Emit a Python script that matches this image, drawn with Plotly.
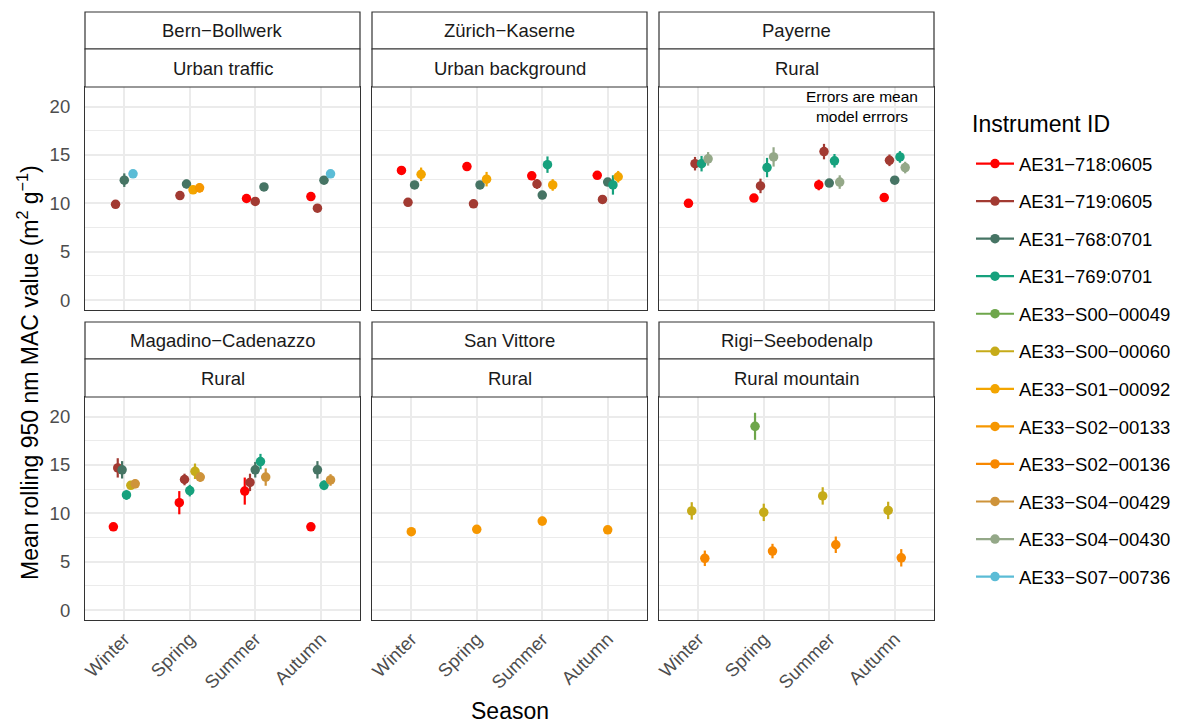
import plotly.graph_objects as go

W, H = 1185, 723
FONT = "Liberation Sans, Arial, Helvetica, sans-serif"

# ---------------- data ----------------
seasons = ["Winter", "Spring", "Summer", "Autumn"]

instruments = [
    "AE31−718:0605", "AE31−719:0605", "AE31−768:0701", "AE31−769:0701",
    "AE33−S00−00049", "AE33−S00−00060", "AE33−S01−00092", "AE33−S02−00133",
    "AE33−S02−00136", "AE33−S04−00429", "AE33−S04−00430", "AE33−S07−00736",
]
colors = [
    "#FF0000", "#A23A32", "#467464", "#16A17D", "#6EA64B", "#C6AB19",
    "#F3A500", "#F69700", "#F88800", "#CE933A", "#94A888", "#5BBCD6",
]

sites = ["Bern−Bollwerk", "Zürich−Kaserne", "Payerne",
         "Magadino−Cadenazzo", "San Vittore", "Rigi−Seebodenalp"]
site_types = ["Urban traffic", "Urban background", "Rural",
              "Rural", "Rural", "Rural mountain"]

# mean MAC values per instrument, per season (Winter, Spring, Summer, Autumn)
bern_mac = {
    "AE31−718:0605": [None, None, 10.5, 10.7],
    "AE31−719:0605": [9.9, 10.8, 10.2, 9.5],
    "AE31−768:0701": [12.4, 12.0, 11.7, 12.4],
    "AE33−S01−00092": [None, 11.4, None, None],
    "AE33−S02−00133": [None, 11.6, None, None],
    "AE33−S07−00736": [13.05, None, None, 13.05],
}
bern_err = {
    "AE31−718:0605": [None, None, 0.25, 0.25],
    "AE31−719:0605": [0.25, 0.25, 0.25, 0.25],
    "AE31−768:0701": [0.7, 0.45, 0.25, 0.3],
    "AE33−S01−00092": [None, 0.35, None, None],
    "AE33−S02−00133": [None, 0.5, None, None],
    "AE33−S07−00736": [0.25, None, None, 0.25],
}

zurich_mac = {
    "AE31−718:0605": [13.4, 13.8, 12.85, 12.9],
    "AE31−719:0605": [10.1, 9.95, 12.0, 10.4],
    "AE31−768:0701": [11.9, 11.9, 10.85, 12.2],
    "AE31−769:0701": [None, None, 14.0, 11.9],
    "AE33−S01−00092": [13.0, 12.5, 11.9, 12.75],
}
zurich_err = {
    "AE31−718:0605": [0.25, 0.25, 0.25, 0.25],
    "AE31−719:0605": [0.25, 0.25, 0.5, 0.25],
    "AE31−768:0701": [0.3, 0.3, 0.3, 0.4],
    "AE31−769:0701": [None, None, 0.85, 1.0],
    "AE33−S01−00092": [0.7, 0.75, 0.6, 0.6],
}

payerne_mac = {
    "AE31−718:0605": [10.0, 10.55, 11.9, 10.6],
    "AE31−719:0605": [14.1, 11.8, 15.35, 14.45],
    "AE31−768:0701": [None, None, 12.1, 12.4],
    "AE31−769:0701": [14.1, 13.7, 14.4, 14.8],
    "AE33−S04−00430": [14.6, 14.8, 12.2, 13.7],
}
payerne_err = {
    "AE31−718:0605": [0.25, 0.25, 0.55, 0.3],
    "AE31−719:0605": [0.7, 0.75, 0.8, 0.6],
    "AE31−768:0701": [None, None, 0.3, 0.3],
    "AE31−769:0701": [0.8, 1.0, 0.7, 0.6],
    "AE33−S04−00430": [0.7, 1.0, 0.7, 0.6],
}

magadino_mac = {
    "AE31−718:0605": [8.6, 11.1, 12.3, 8.6],
    "AE31−719:0605": [14.7, 13.5, 13.2, None],
    "AE31−768:0701": [14.5, None, 14.5, 14.5],
    "AE31−769:0701": [11.9, 12.35, 15.35, 12.9],
    "AE33−S00−00060": [12.9, 14.35, None, None],
    "AE33−S04−00429": [13.05, 13.75, 13.75, 13.45],
}
magadino_err = {
    "AE31−718:0605": [0.35, 1.2, 1.4, 0.4],
    "AE31−719:0605": [1.0, 0.6, 0.9, None],
    "AE31−768:0701": [0.9, None, 0.8, 0.9],
    "AE31−769:0701": [0.5, 0.6, 0.8, 0.5],
    "AE33−S00−00060": [0.4, 0.8, None, None],
    "AE33−S04−00429": [0.45, 0.5, 0.9, 0.6],
}

sanvittore_mac = {
    "AE33−S02−00133": [8.1, 8.35, 9.2, 8.3],
}
sanvittore_err = {
    "AE33−S02−00133": [0.25, 0.25, 0.45, 0.25],
}

rigi_mac = {
    "AE33−S00−00049": [None, 19.0, None, None],
    "AE33−S00−00060": [10.25, 10.1, 11.8, 10.3],
    "AE33−S02−00136": [5.35, 6.1, 6.75, 5.4],
}
rigi_err = {
    "AE33−S00−00049": [None, 1.4, None, None],
    "AE33−S00−00060": [0.9, 0.9, 0.9, 0.9],
    "AE33−S02−00136": [0.8, 0.75, 0.85, 0.9],
}

site_mac = [bern_mac, zurich_mac, payerne_mac, magadino_mac, sanvittore_mac, rigi_mac]
site_err = [bern_err, zurich_err, payerne_err, magadino_err, sanvittore_err, rigi_err]

y_ticks = [0, 5, 10, 15, 20]
note_text = "Errors are mean<br>model errrors"
legend_title = "Instrument ID"

# ---------------- layout geometry (pixels) ----------------
col_px = [(85, 360), (372, 647), (659, 934)]
row_px = [(87, 310), (397, 620)]          # panel area top/bottom
strip_px = [(12, 49, 87), (322, 359, 397)]  # strip top, divider, bottom
DODGE = 0.4


def px_x(v):
    return v / W


def px_y(v):
    return 1 - v / H


color_of = dict(zip(instruments, colors))

fig = go.Figure()
layout = {}
shapes = []
annotations = []

for p in range(6):
    r, c = divmod(p, 3)
    ax = "" if p == 0 else str(p + 1)
    mac, err = site_mac[p], site_err[p]

    # dodge positions per season, instruments in legend order
    offsets = {}
    for s in range(4):
        present = [i for i in instruments if i in mac and mac[i][s] is not None]
        n = len(present)
        for k, inst in enumerate(present):
            offsets[(inst, s)] = -DODGE / 2 + (k + 0.5) * DODGE / n

    for inst in instruments:
        if inst not in mac:
            continue
        xs, ys, es = [], [], []
        for s in range(4):
            v = mac[inst][s]
            if v is None:
                continue
            xs.append(s + 1 + offsets[(inst, s)])
            ys.append(v)
            es.append(err[inst][s])
        fig.add_trace(go.Scatter(
            x=xs, y=ys, mode="markers", name=inst, legendgroup=inst,
            showlegend=False, xaxis="x" + ax, yaxis="y" + ax,
            marker=dict(color=color_of[inst], size=9.5, line=dict(width=0)),
            error_y=dict(type="data", array=es, visible=True, width=0,
                         thickness=2.2, color=color_of[inst]),
            hoverinfo="x+y+name",
        ))

    x0, x1 = col_px[c]
    yt, yb = row_px[r]
    layout["xaxis" + ax] = dict(
        domain=[px_x(x0), px_x(x1)], anchor="y" + ax, range=[0.4, 4.6],
        tickmode="array", tickvals=[1, 2, 3, 4], ticktext=seasons,
        showticklabels=(r == 1), tickangle=-45, ticks="",
        tickfont=dict(size=18.5, color="#4D4D4D", family=FONT),
        showgrid=True, gridcolor="#EBEBEB", gridwidth=2,
        zeroline=False, showline=True, mirror=True, linecolor="#333333",
        linewidth=1.2, automargin=False, fixedrange=True,
    )
    layout["yaxis" + ax] = dict(
        domain=[px_y(yb), px_y(yt)], anchor="x" + ax, range=[-1.03, 22.03],
        tickmode="array", tickvals=y_ticks, ticktext=[str(t) for t in y_ticks],
        showticklabels=(c == 0), ticks="", ticklabelstandoff=10,
        tickfont=dict(size=18.5, color="#4D4D4D", family=FONT),
        showgrid=True, gridcolor="#EBEBEB", gridwidth=2,
        minor=dict(dtick=2.5, showgrid=True, gridcolor="#EBEBEB", gridwidth=1),
        zeroline=False, showline=True, mirror=True, linecolor="#333333",
        linewidth=1.2, automargin=False, fixedrange=True,
    )

    # facet strips
    st, sm, sb = strip_px[r]
    for (a, b, label) in [(st, sm, sites[p]), (sm, sb, site_types[p])]:
        shapes.append(dict(type="rect", xref="paper", yref="paper",
                           x0=px_x(x0), x1=px_x(x1), y0=px_y(b), y1=px_y(a),
                           line=dict(color="#333333", width=1.2),
                           fillcolor="white", layer="above"))
        annotations.append(dict(text=label, xref="paper", yref="paper",
                                x=px_x((x0 + x1) / 2), y=px_y((a + b) / 2),
                                xanchor="center", yanchor="middle",
                                showarrow=False,
                                font=dict(size=18.5, color="#1A1A1A", family=FONT)))

# note in Payerne panel
annotations.append(dict(text=note_text, xref="x3", yref="y3", x=3.5, y=20,
                        xanchor="center", yanchor="middle", showarrow=False,
                        font=dict(size=15.5, color="#000000", family=FONT)))

# axis titles
annotations.append(dict(text="Season", xref="paper", yref="paper",
                        x=px_x(509.5), y=px_y(711), xanchor="center",
                        yanchor="middle", showarrow=False,
                        font=dict(size=23, color="#000000", family=FONT)))
annotations.append(dict(text="Mean rolling 950 nm MAC value (m<sup>2</sup> g<sup>−1</sup>)",
                        xref="paper", yref="paper", x=px_x(28), y=px_y(373),
                        xanchor="center", yanchor="middle", textangle=-90,
                        showarrow=False,
                        font=dict(size=23, color="#000000", family=FONT)))

# legend title
annotations.append(dict(text=legend_title, xref="paper", yref="paper",
                        x=px_x(970), y=px_y(124), xanchor="left",
                        yanchor="middle", showarrow=False,
                        font=dict(size=23, color="#000000", family=FONT)))

# legend entries
for inst in instruments:
    fig.add_trace(go.Scatter(
        x=[None], y=[None], mode="lines+markers", name=inst, legendgroup=inst,
        showlegend=True, xaxis="x", yaxis="y",
        marker=dict(color=color_of[inst], size=9.5),
        line=dict(color=color_of[inst], width=2.2),
    ))

fig.update_layout(
    width=W, height=H, margin=dict(l=0, r=0, t=0, b=0),
    paper_bgcolor="white", plot_bgcolor="white",
    font=dict(family=FONT, color="#000000"),
    shapes=shapes, annotations=annotations,
    legend=dict(
        x=px_x(971), y=px_y(145), xanchor="left", yanchor="top",
        font=dict(size=18.5, family=FONT, color="#000000"),
        tracegroupgap=10.5, itemwidth=38,
        bgcolor="rgba(0,0,0,0)", borderwidth=0,
        itemclick=False, itemdoubleclick=False,
    ),
    showlegend=True,
    **layout,
)

fig.write_html("out.html")
